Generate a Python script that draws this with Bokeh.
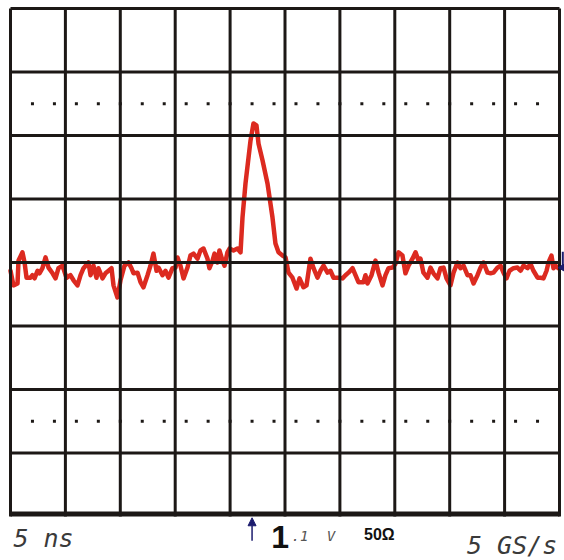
from bokeh.plotting import figure
from bokeh.models import Range1d, Arrow, NormalHead
from bokeh.core.properties import value
from bokeh.embed import file_html
from bokeh.resources import INLINE

# Scope settings: 5 ns/div horizontally, 100 mV/div vertically, 10 x 8 divisions
NS_PER_DIV = 5
MV_PER_DIV = 100
N_HDIV = 10
N_VDIV = 8
TRIGGER_NS = 22.0

# Acquired trace (time in ns, amplitude in mV)
t_ns = [
    0.00, 0.27, 0.64, 0.73, 1.09, 1.28, 1.46, 1.82, 2.00, 2.19, 2.46, 2.64, 2.91, 3.19, 3.46,
    3.83, 4.10, 4.37, 4.74, 5.10, 5.46, 5.74, 6.10, 6.38, 6.65, 7.10, 7.29, 7.56, 7.83, 8.01,
    8.38, 8.65, 8.93, 9.20, 9.38, 9.74, 10.02, 10.38, 10.75, 11.02, 11.20, 11.57, 11.84, 12.11,
    12.48, 12.75, 13.02, 13.30, 13.48, 13.84, 14.12, 14.39, 14.75, 15.03, 15.21, 15.48, 15.76,
    16.12, 16.39, 16.67, 17.03, 17.30, 17.58, 17.94, 18.12, 18.40, 18.58, 18.85, 19.03, 19.31,
    19.49, 19.76, 19.95, 20.31, 20.67, 20.95, 21.13, 21.40, 21.86, 22.13, 22.40, 22.59, 22.95,
    23.41, 23.86, 24.13, 24.41, 24.77, 25.05, 25.32, 25.68, 26.05, 26.32, 26.68, 26.96, 27.32,
    27.60, 27.96, 28.23, 28.51, 28.87, 29.14, 29.42, 29.87, 30.24, 30.51, 30.78, 31.15, 31.42,
    31.69, 32.15, 32.33, 32.51, 32.88, 33.24, 33.52, 33.88, 34.15, 34.43, 34.79, 35.06, 35.34,
    35.70, 35.97, 36.25, 36.61, 36.89, 37.16, 37.34, 37.61, 37.98, 38.25, 38.52, 38.89, 39.16,
    39.44, 39.71, 40.07, 40.35, 40.71, 40.98, 41.26, 41.62, 41.89, 42.17, 42.53, 42.81, 43.08,
    43.44, 43.72, 43.99, 44.35, 44.63, 44.90, 45.17, 45.45, 45.81, 46.17, 46.45, 46.72, 47.09,
    47.36, 47.63, 48.00, 48.27, 48.54, 48.82, 49.00, 49.27, 49.45, 49.64, 49.91,
]
v_mv = [
    -13, -36, -33, 3, 16, 0, -24, -24, -20, -25, -13, -17, -9, 8, -8,
    -17, -25, -9, -5, -24, -20, -28, -36, -20, -9, 0, -20, -5, -24, -9,
    -25, -17, -13, -9, -36, -55, -28, -5, 0, -9, -17, -16, -31, -39,
    -20, -5, 14, -13, -8, -20, -13, -24, -9, -8, 8, -5, -25,
    -8, 11, 14, 6, 19, 22, 6, -9, 3, 14, 0, 19, 3,
    -5, 16, 22, 19, 22, 16, 71, 124, 192, 219, 216, 187, 161,
    124, 71, 30, 16, 11, 8, -16, -24, -41, -25, -39, -36, 6,
    -9, -24, -13, -5, -16, -13, -24, -24, -25, -20, -16, -9, -20,
    -31, -31, -20, -33, -20, 3, -16, -36, -20, -9, -8, -2, 16,
    11, -17, -5, 6, 16, 3, 6, -16, -24, -8, -17, -25, -9,
    -8, -25, -36, -16, 0, -9, -5, -20, -20, -33, -20, -8, 0,
    -16, -17, -16, -8, -5, -16, -25, -13, -9, -8, -13, -5, -9,
    -2, -13, -24, -24, -25, -13, 0, 11, -9, -5, -9,
]

W, H = 564, 560
PX_PER_NS = 10.98
PX_PER_MV = 0.635
LEFT_PX, CENTER_PX = 10, 262

p = figure(
    width=W, height=H, output_backend="svg", toolbar_location=None,
    x_axis_type=None, y_axis_type=None, min_border=0,
    x_range=Range1d(-LEFT_PX / PX_PER_NS, (W - LEFT_PX) / PX_PER_NS),
    y_range=Range1d(-(H - CENTER_PX) / PX_PER_MV, CENTER_PX / PX_PER_MV),
)
p.outline_line_color = None
p.background_fill_color = "white"
p.border_fill_color = "white"

# Trace
p.line(t_ns, v_mv, line_color="#dc2a20", line_width=4.5, line_join="round", line_cap="round")

# Graticule
t_end = N_HDIV * NS_PER_DIV
v_top = N_VDIV / 2 * MV_PER_DIV
grid_color = "#1c1816"
vx = [i * NS_PER_DIV for i in range(N_HDIV + 1)]
p.segment(x0=vx, y0=[-v_top] * len(vx), x1=vx, y1=[v_top] * len(vx),
          line_color=grid_color, line_width=3)
hy = [(j - N_VDIV // 2) * MV_PER_DIV for j in range(1, N_VDIV + 1)]
p.segment(x0=[0] * len(hy), y0=hy, x1=[t_end] * len(hy), y1=hy,
          line_color=grid_color, line_width=3)
# heavier baseline at the bottom edge
p.segment(x0=[0], y0=[-v_top + 4], x1=[t_end], y1=[-v_top + 4],
          line_color=grid_color, line_width=5)

# dotted rows at +/- 2.5 divisions
dot_t = [k * 0.4 * NS_PER_DIV for k in range(int(N_HDIV / 0.4) + 1)]
for level in (2.5 * MV_PER_DIV, -2.5 * MV_PER_DIV):
    p.scatter(dot_t, [level] * len(dot_t), marker="square", size=3,
              fill_color=grid_color, line_color=None)

# Trigger position marker
navy = "#1c1c6e"
p.add_layout(Arrow(
    end=NormalHead(size=8, fill_color=navy, line_color=navy, line_width=1),
    x_start=TRIGGER_NS, y_start=-438, x_end=TRIGGER_NS, y_end=-402,
    line_color=navy, line_width=1.5))

# Ground level marker on the right edge
p.segment(x0=[50.3], y0=[17], x1=[50.3], y1=[-6], line_color=navy, line_width=2)
p.scatter([50.25], [-8], marker="triangle", angle=1.5708, size=7,
          fill_color=navy, line_color=navy)

# Readout texts
mono = value("DejaVu Sans Mono")
p.text([0.27], [-435], text=["5 ns"], text_font=mono, text_font_style="italic",
       text_font_size="25px", text_color="#3a3a3a", text_baseline="alphabetic")
p.text([49.8], [-445], text=["5 GS/s"], text_font=mono, text_font_style="italic",
       text_font_size="25px", text_color="#3a3a3a", text_align="right",
       text_baseline="alphabetic")
p.text([23.75], [-432], text=["1"], text_font=value("Liberation Sans"),
       text_font_style="bold", text_font_size="32px", text_color="#111111",
       text_baseline="alphabetic")
p.text([25.6], [-431], text=[".1"], text_font=mono, text_font_style="italic",
       text_font_size="14px", text_color="#555555", text_baseline="alphabetic")
p.text([28.8], [-431], text=["V"], text_font=mono, text_font_style="italic",
       text_font_size="14px", text_color="#555555", text_baseline="alphabetic")
p.text([32.2], [-428], text=["50\u03a9"], text_font=value("Liberation Sans"),
       text_font_style="bold", text_font_size="16px", text_color="#111111",
       text_baseline="alphabetic")

open("out.html", "w").write(file_html(p, INLINE))
